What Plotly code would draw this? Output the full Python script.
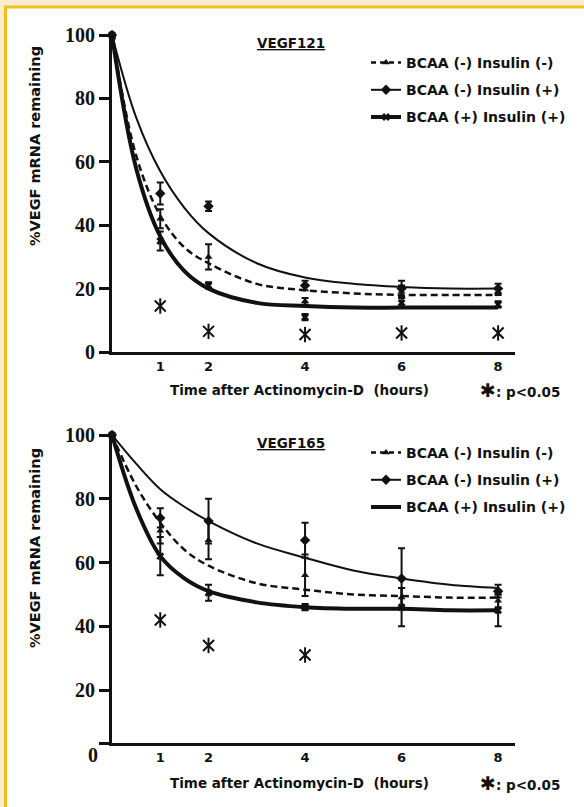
import plotly.graph_objects as go

W, H = 584, 807

# ---------------- data ----------------
hours = [0, 1, 2, 4, 6, 8]
fit_hours = [0, 0.5, 1, 1.5, 2, 3, 4, 5, 6, 7, 8]
tick_hours = [1, 2, 4, 6, 8]
y_ticks = [0, 20, 40, 60, 80, 100]

series_names = ["BCAA (-) Insulin (-)", "BCAA (-) Insulin (+)", "BCAA (+) Insulin (+)"]

# VEGF121
v121_a = [100, 42, 30, 16, 19, 19]
v121_a_err = [1, 3, 4, 1, 2, 1]
v121_b = [100, 50, 46, 21, 20, 20]
v121_b_err = [1, 3.5, 1.5, 1.5, 2.5, 1.5]
v121_c = [100, 35, 21, 11, 15.5, 15]
v121_c_err = [1, 3, 1, 1, 1.5, 1]
v121_fit_a = [100, 62, 43, 33, 28, 21.5, 19.5, 18.5, 18, 18, 18]
v121_fit_b = [100, 74, 57, 45.5, 37.5, 28, 23.5, 21.5, 20.5, 20, 20]
v121_fit_c = [100, 58, 36.5, 25.5, 20, 15.5, 14.5, 14, 14, 14, 14]
v121_sig_hours = [1, 2, 4, 6, 8]
v121_sig = [14.5, 6.5, 5.5, 6, 6]

# VEGF165
v165_a = [100, 70, 67, 56, 49, 48]
v165_a_err = [1, 4, 6, 6.5, 3, 2]
v165_b = [100, 74, 73, 67, 55, 51]
v165_b_err = [1, 3, 7, 5.5, 9.5, 2]
v165_c = [100, 62, 50.5, 46, 46, 45]
v165_c_err = [1, 6, 2.5, 1, 6, 5]
v165_fit_a = [100, 84, 72.5, 64, 59, 53.5, 51.5, 50, 49.5, 49, 49]
v165_fit_b = [100, 91, 83, 77.5, 73, 66, 61.5, 57.5, 55, 53, 52]
v165_fit_c = [100, 77, 62, 55, 51, 47.5, 46, 45.5, 45.5, 45, 45]
v165_sig_hours = [1, 2, 4]
v165_sig = [42, 34, 31]

# ---------------- helpers ----------------
def fx(px):
    return px / W

def fy(py):
    return 1 - py / H

SANS = "DejaVu Sans, Verdana, sans-serif"
SERIF = "Liberation Serif, Times New Roman, serif"
BLACK = "#111111"

fig = go.Figure()

def add_panel(xa, ya, legend_id, a, ae, b, be, c, ce, fa, fb, fc, sh, sv, c_legend_marker):
    # fitted curves
    fig.add_trace(go.Scatter(x=fit_hours, y=fa, mode="lines", line=dict(color=BLACK, width=2.5, dash="7px,4px", shape="spline"),
                             xaxis=xa, yaxis=ya, showlegend=False, hoverinfo="skip", cliponaxis=False))
    fig.add_trace(go.Scatter(x=fit_hours, y=fb, mode="lines", line=dict(color=BLACK, width=2, shape="spline"),
                             xaxis=xa, yaxis=ya, showlegend=False, hoverinfo="skip", cliponaxis=False))
    fig.add_trace(go.Scatter(x=fit_hours, y=fc, mode="lines", line=dict(color=BLACK, width=4, shape="spline"),
                             xaxis=xa, yaxis=ya, showlegend=False, hoverinfo="skip", cliponaxis=False))
    # data points with error bars
    eb = dict(type="data", color=BLACK, thickness=2, width=3.5)
    fig.add_trace(go.Scatter(x=hours, y=a, mode="markers", marker=dict(symbol="triangle-up", size=7, color=BLACK),
                             error_y=dict(array=ae, **eb), xaxis=xa, yaxis=ya, showlegend=False, cliponaxis=False))
    fig.add_trace(go.Scatter(x=hours, y=b, mode="markers", marker=dict(symbol="diamond", size=8, color=BLACK),
                             error_y=dict(array=be, **eb), xaxis=xa, yaxis=ya, showlegend=False, cliponaxis=False))
    fig.add_trace(go.Scatter(x=hours, y=c, mode="markers", marker=dict(symbol="x", size=7, color=BLACK),
                             error_y=dict(array=ce, **eb), xaxis=xa, yaxis=ya, showlegend=False, cliponaxis=False))
    # significance asterisks (vertical bar + X)
    for sym in ["line-ns-open", "x-thin-open"]:
        fig.add_trace(go.Scatter(x=sh, y=sv, mode="markers",
                                 marker=dict(symbol=sym, size=11, color=BLACK, line=dict(color=BLACK, width=2)),
                                 xaxis=xa, yaxis=ya, showlegend=False, cliponaxis=False))
    # legend keys
    fig.add_trace(go.Scatter(x=[None], y=[None], mode="lines+markers", name=series_names[0],
                             line=dict(color=BLACK, width=2.5, dash="5px,4px"),
                             marker=dict(symbol="triangle-up", size=7, color=BLACK),
                             xaxis=xa, yaxis=ya, legend=legend_id, legendgroup=legend_id + "a"))
    fig.add_trace(go.Scatter(x=[None], y=[None], mode="lines+markers", name=series_names[1],
                             line=dict(color=BLACK, width=2),
                             marker=dict(symbol="diamond", size=8, color=BLACK),
                             xaxis=xa, yaxis=ya, legend=legend_id, legendgroup=legend_id + "b"))
    fig.add_trace(go.Scatter(x=[None], y=[None], mode="lines+markers" if c_legend_marker else "lines", name=series_names[2],
                             line=dict(color=BLACK, width=4),
                             marker=dict(symbol="x", size=7, color=BLACK),
                             xaxis=xa, yaxis=ya, legend=legend_id, legendgroup=legend_id + "c"))

add_panel("x", "y", "legend", v121_a, v121_a_err, v121_b, v121_b_err, v121_c, v121_c_err,
          v121_fit_a, v121_fit_b, v121_fit_c, v121_sig_hours, v121_sig, True)
add_panel("x2", "y2", "legend2", v165_a, v165_a_err, v165_b, v165_b_err, v165_c, v165_c_err,
          v165_fit_a, v165_fit_b, v165_fit_c, v165_sig_hours, v165_sig, False)

xaxis_common = dict(range=[0, 8.35], tickvals=tick_hours, ticks="", showline=True, linewidth=3, linecolor=BLACK,
                    showgrid=False, zeroline=False, automargin=False,
                    tickfont=dict(family=SANS, size=13, color=BLACK, weight="bold"), fixedrange=True)
yaxis_common = dict(ticks="outside", ticklen=10, tickwidth=3, tickcolor=BLACK, showline=True, linewidth=3,
                    linecolor=BLACK, showgrid=False, zeroline=False, automargin=False,
                    tickfont=dict(family=SERIF, size=20, color=BLACK, weight="bold"), fixedrange=True)

legend_common = dict(xanchor="left", yanchor="top", bgcolor="rgba(0,0,0,0)", borderwidth=0,
                     font=dict(family=SANS, size=14, color=BLACK, weight="bold"),
                     tracegroupgap=6, itemwidth=30)

ann_font = dict(family=SANS, size=13.5, color=BLACK, weight="bold")
annotations = []
def add_text(text, px, py, font, angle=0):
    annotations.append(dict(text=text, x=fx(px), y=fy(py), xref="paper", yref="paper", xanchor="center",
                            yanchor="middle", showarrow=False, textangle=angle, font=font))

for title, ty, ylab_y, xt_y in [("VEGF121", 43, 146, 390), ("VEGF165", 443, 548, 783)]:
    add_text("<u>" + title + "</u>", 291, ty, ann_font)
    add_text("%VEGF mRNA remaining", 35, ylab_y, dict(family=SANS, size=14.5, color=BLACK, weight="bold"), -90)
    add_text("Time after Actinomycin-D&nbsp; (hours)", 299, xt_y, ann_font)
    add_text("<span style='font-size:19px'>✱</span>: p&lt;0.05", 520, xt_y, ann_font)
# "0" label of lower panel sits below its axis line
annotations.append(dict(text="0", x=fx(100), y=fy(755), xref="paper", yref="paper", xanchor="right",
                        yanchor="middle", showarrow=False,
                        font=dict(family=SERIF, size=20, color=BLACK, weight="bold")))

fig.update_layout(
    width=W, height=H, autosize=False,
    margin=dict(l=0, r=0, t=0, b=0, pad=0, autoexpand=False),
    paper_bgcolor="#FBECD0", plot_bgcolor="rgba(0,0,0,0)",
    xaxis=dict(domain=[fx(112), fx(515)], anchor="y", **xaxis_common),
    yaxis=dict(domain=[fy(352), fy(35)], range=[0, 100], tickvals=y_ticks, anchor="x", **yaxis_common),
    xaxis2=dict(domain=[fx(112), fx(515)], anchor="y2", **xaxis_common),
    yaxis2=dict(domain=[fy(743), fy(435)], range=[3.4, 100], tickvals=[3.4] + y_ticks[1:],
                ticktext=[""] + [str(v) for v in y_ticks[1:]], anchor="x2", **yaxis_common),
    legend=dict(x=fx(366), y=fy(47), **legend_common),
    legend2=dict(x=fx(366), y=fy(437), **legend_common),
    shapes=[dict(type="rect", xref="paper", yref="paper", x0=fx(5.5), x1=1.05, y0=-0.05, y1=fy(7),
                 fillcolor="white", line=dict(color="#F2BE22", width=3), layer="below")],
    annotations=annotations,
    showlegend=True,
)

fig.write_html("out.html", config={"displayModeBar": False},
               post_script="document.body.style.margin='0';document.body.style.overflow='hidden';")
